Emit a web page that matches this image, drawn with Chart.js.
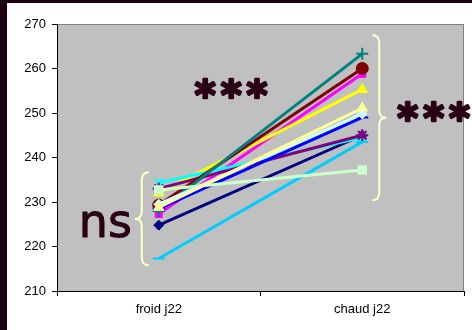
<!DOCTYPE html>
<html>
<head>
<meta charset="utf-8">
<script src="https://cdn.jsdelivr.net/npm/chart.js@4"></script>
<style>
  html, body { margin: 0; padding: 0; background: #1e0010; }
  #wrap { position: absolute; left: 7px; top: 3px; width: 465px; height: 327px; background: #ffffff; }
</style>
</head>
<body>
<div id="wrap"><canvas id="chart" width="465" height="327"></canvas></div>
<script>
const categories = ['froid j22', 'chaud j22'];
const yTicks = [210, 220, 230, 240, 250, 260, 270];

// one pair of values per series (froid, chaud)
const navy = [224.8, 245.0];
const magenta = [227.3, 258.8];
const yellow = [232.0, 255.3];
const cyan = [234.3, 244.5];
const purple = [233.0, 245.0];
const darkRed = [229.3, 260.0];
const teal = [228.0, 263.3];
const blue = [228.5, 249.0];
const skyBlue = [217.3, 243.5];
const lightCyan = [229.5, 249.8];
const paleGreen = [232.7, 237.2];
const lightYellow = [228.8, 251.1];

const seriesList = [
    { data: navy, color: '#000080', style: 'rectRot', r: 5 },
    { data: magenta, color: '#FF00FF', style: 'rect', r: 5 },
    { data: yellow, color: '#FFFF00', style: 'triangle', r: 6 },
    { data: cyan, color: '#00FFFF', style: 'crossRot', r: 6 },
    { data: purple, color: '#800080', style: 'star', r: 6 },
    { data: darkRed, color: '#800000', style: 'circle', r: 6 },
    { data: teal, color: '#008080', style: 'cross', r: 6 },
    { data: blue, color: '#0000FF', style: 'line', r: 6 },
    { data: skyBlue, color: '#00CCFF', style: 'line', r: 6 },
    { data: lightCyan, color: '#CCFFFF', style: 'rectRot', r: 5 },
    { data: paleGreen, color: '#CCFFCC', style: 'rect', r: 6 },
    { data: lightYellow, color: '#FFFF99', style: 'triangle', r: 6 },
];

const ink = '#2a0014';

const plotBackground = {
    id: 'plotBackground',
    beforeDraw(chart) {
        const { ctx, chartArea: a } = chart;
        ctx.save();
        ctx.fillStyle = '#C0C0C0';
        ctx.fillRect(a.left, a.top, a.right - a.left, a.bottom - a.top);
        ctx.strokeStyle = '#808080';
        ctx.lineWidth = 1;
        ctx.strokeRect(a.left + 0.5, a.top + 0.5, a.right - a.left - 1, a.bottom - a.top);
        ctx.restore();
    },
};

function brace(ctx, x, top, bottom, dir) {
    // dir = -1 tip points left ('{'), +1 tip points right ('}')
    const mid = (top + bottom) / 2;
    const w = 7 * dir;
    ctx.beginPath();
    ctx.moveTo(x - w, top);
    ctx.quadraticCurveTo(x, top, x, top + 8);
    ctx.lineTo(x, mid - 7);
    ctx.quadraticCurveTo(x, mid, x + w, mid);
    ctx.quadraticCurveTo(x, mid, x, mid + 7);
    ctx.lineTo(x, bottom - 8);
    ctx.quadraticCurveTo(x, bottom, x - w, bottom);
    ctx.stroke();
}

const annotations = {
    id: 'annotations',
    afterDatasetsDraw(chart) {
        const { ctx } = chart;
        const x = chart.scales.x;
        const y = chart.scales.y;
        const x0 = x.getPixelForValue(0);
        const x1 = x.getPixelForValue(1);
        ctx.save();
        ctx.strokeStyle = '#FFFFCC';
        ctx.lineWidth = 2;
        brace(ctx, x0 - 17, y.getPixelForValue(236.7), y.getPixelForValue(215.8), -1);
        brace(ctx, x1 + 17, y.getPixelForValue(267.5), y.getPixelForValue(230.4), 1);

        // bold, rounded-looking asterisks: fill plus a thin round stroke
        ctx.fillStyle = ink;
        ctx.strokeStyle = ink;
        ctx.lineJoin = 'round';
        ctx.lineWidth = 2.5;
        ctx.textBaseline = 'alphabetic';
        ctx.font = 'bold 40px "DejaVu Sans"';
        ctx.letterSpacing = '5px';
        const starsA = [x0 + 36, y.getPixelForValue(250.8)];
        const starsB = [x1 + 35, y.getPixelForValue(245.8)];
        ctx.fillText('***', starsA[0], starsA[1]);
        ctx.strokeText('***', starsA[0], starsA[1]);
        ctx.fillText('***', starsB[0], starsB[1]);
        ctx.strokeText('***', starsB[0], starsB[1]);
        ctx.letterSpacing = '0px';
        ctx.lineWidth = 1;
        ctx.font = '46px "DejaVu Sans"';
        ctx.fillText('ns', x0 - 80, y.getPixelForValue(222.2));
        ctx.strokeText('ns', x0 - 80, y.getPixelForValue(222.2));
        ctx.restore();
    },
};

new Chart(document.getElementById('chart'), {
    type: 'line',
    data: {
        labels: categories,
        datasets: seriesList.map((s, i) => ({
            data: s.data,
            borderColor: s.color,
            backgroundColor: s.color,
            pointBorderColor: s.color,
            pointBackgroundColor: s.color,
            pointStyle: s.style,
            pointRadius: s.r,
            pointBorderWidth: (s.style === 'cross' || s.style === 'crossRot' || s.style === 'line' || s.style === 'star') ? 2 : 1,
            borderWidth: 3,
            order: seriesList.length - i,
        })),
    },
    options: {
        responsive: false,
        animation: false,
        layout: { padding: { top: 21, right: 5, left: 0, bottom: 0 } },
        plugins: {
            legend: { display: false },
            tooltip: { enabled: false },
        },
        scales: {
            x: {
                offset: true,
                grid: { drawOnChartArea: false, offset: true, tickLength: 5, color: '#000000' },
                border: { color: '#000000', width: 1 },
                ticks: { color: '#000000', font: { family: 'Liberation Sans', size: 13 }, padding: 6 },
                afterFit(scale) { scale.height = 39; },
            },
            y: {
                min: 210,
                max: 270,
                afterBuildTicks(scale) { scale.ticks = yTicks.map((v) => ({ value: v })); },
                grid: { drawOnChartArea: false, tickLength: 5, color: '#000000' },
                border: { color: '#000000', width: 1 },
                ticks: { color: '#000000', font: { family: 'Liberation Sans', size: 13 }, padding: 6 },
                afterFit(scale) { scale.width = 50; },
            },
        },
    },
    plugins: [plotBackground, annotations],
});
</script>
</body>
</html>
